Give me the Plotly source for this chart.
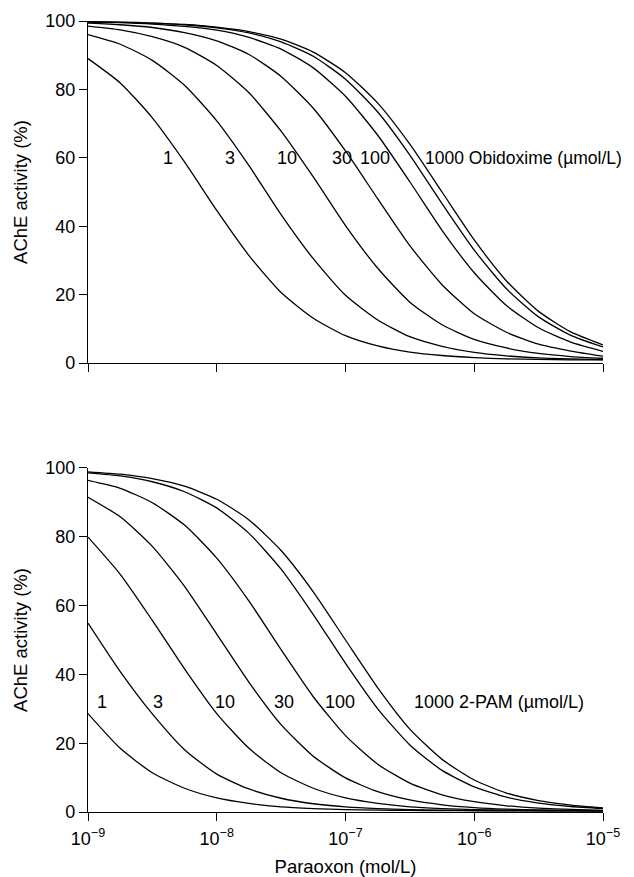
import plotly.graph_objects as go

# Paraoxon concentration (mol/L), quarter-decade steps
paraoxon = [1e-9, 1.78e-9, 3.16e-9, 5.62e-9, 1e-8, 1.78e-8, 3.16e-8, 5.62e-8, 1e-7,
            1.78e-7, 3.16e-7, 5.62e-7, 1e-6, 1.78e-6, 3.16e-6, 5.62e-6, 1e-5]

# Top panel: Obidoxime concentrations (µmol/L) and AChE activity (%)
obidoxime_conc = ["1", "3", "10", "30", "100", "300", "1000"]
obid_1 = [89.0, 81.9, 71.7, 58.8, 44.6, 31.4, 20.6, 13.1, 8.0, 5.0, 3.2, 2.2, 1.6, 1.2, 1.05, 0.95, 0.9]
obid_3 = [96.0, 93.2, 88.5, 81.2, 70.8, 57.7, 43.4, 30.5, 19.8, 12.6, 7.7, 4.9, 3.1, 2.1, 1.5, 1.2, 1.0]
obid_10 = [98.5, 97.4, 95.4, 92.3, 87.0, 79.0, 67.8, 54.4, 40.2, 27.7, 17.8, 11.2, 6.9, 4.4, 2.8, 1.9, 1.4]
obid_30 = [99.4, 98.9, 98.1, 96.6, 94.2, 90.2, 83.8, 74.5, 62.0, 48.0, 34.3, 22.9, 14.4, 9.0, 5.5, 3.5, 2.0]
obid_100 = [99.7, 99.5, 99.1, 98.4, 97.3, 95.2, 91.8, 86.3, 78.0, 66.6, 53.0, 38.8, 26.4, 16.8, 10.3, 6.1, 3.4]
obid_300 = [99.8, 99.6, 99.4, 98.9, 98.0, 96.5, 93.9, 89.7, 83.0, 73.4, 60.8, 46.6, 33.0, 21.7, 13.5, 8.1, 4.7]
obid_1000 = [99.8, 99.7, 99.4, 99.0, 98.2, 96.9, 94.7, 90.9, 84.9, 76.0, 64.0, 50.0, 36.0, 24.0, 15.1, 9.1, 5.3]
obidoxime_series = [obid_1, obid_3, obid_10, obid_30, obid_100, obid_300, obid_1000]

# Bottom panel: 2-PAM concentrations (µmol/L) and AChE activity (%)
pam_conc = ["1", "3", "10", "30", "100", "300", "1000"]
pam_1 = [28.6, 18.5, 11.4, 6.9, 4.1, 2.5, 1.5, 1.0, 0.7, 0.55, 0.45, 0.4, 0.35, 0.33, 0.3, 0.3, 0.3]
pam_3 = [54.9, 40.8, 28.5, 18.1, 11.0, 6.7, 4.0, 2.4, 1.5, 1.0, 0.7, 0.55, 0.45, 0.4, 0.35, 0.32, 0.3]
pam_10 = [79.9, 69.1, 55.7, 41.6, 28.6, 18.5, 11.4, 6.9, 4.1, 2.5, 1.5, 1.0, 0.7, 0.55, 0.45, 0.4, 0.35]
pam_30 = [91.5, 85.8, 77.2, 65.6, 51.7, 37.7, 25.4, 16.2, 9.9, 5.9, 3.5, 2.1, 1.3, 0.85, 0.6, 0.5, 0.4]
pam_100 = [96.4, 94.1, 89.9, 83.4, 73.8, 61.3, 47.2, 33.5, 22.2, 13.9, 8.4, 5.0, 3.0, 1.8, 1.1, 0.75, 0.5]
pam_300 = [98.6, 97.7, 96.0, 93.1, 88.4, 81.0, 70.6, 57.4, 43.2, 30.0, 19.5, 12.1, 7.3, 4.3, 2.6, 1.6, 1.0]
pam_1000 = [98.9, 98.2, 96.9, 94.7, 90.9, 84.9, 76.0, 64.0, 50.0, 36.1, 24.1, 15.3, 9.3, 5.5, 3.3, 2.0, 1.2]
pam_series = [pam_1, pam_3, pam_10, pam_30, pam_100, pam_300, pam_1000]

x_tickvals = [1e-9, 1e-8, 1e-7, 1e-6, 1e-5]
x_ticktext = ["10<sup>\u22129</sup>", "10<sup>\u22128</sup>", "10<sup>\u22127</sup>",
              "10<sup>\u22126</sup>", "10<sup>\u22125</sup>"]
y_tickvals = [0, 20, 40, 60, 80, 100]

FONT = "Liberation Sans, Arial, Helvetica, sans-serif"
line_style = dict(color="black", width=1.3, shape="spline", smoothing=0.6)

fig = go.Figure()
for name, ys in zip(obidoxime_conc, obidoxime_series):
    fig.add_trace(go.Scatter(x=paraoxon, y=ys, mode="lines", line=line_style,
                             name="Obidoxime " + name, xaxis="x", yaxis="y",
                             showlegend=False))
for name, ys in zip(pam_conc, pam_series):
    fig.add_trace(go.Scatter(x=paraoxon, y=ys, mode="lines", line=line_style,
                             name="2-PAM " + name, xaxis="x2", yaxis="y2",
                             showlegend=False))

axis_common = dict(showline=True, linecolor="black", linewidth=1.3,
                   ticks="outside", ticklen=8, tickwidth=1.3, tickcolor="black",
                   showgrid=False, zeroline=False, automargin=False,
                   tickfont=dict(family=FONT, size=18, color="black"))

# The page body has an 8px default margin, so the figure is sized to fit inside it.
fig.update_layout(
    width=626, height=869,
    paper_bgcolor="white", plot_bgcolor="white",
    margin=dict(l=79.5, r=31, t=13, b=65),
    font=dict(family=FONT, size=18, color="black"),
    xaxis=dict(type="log", range=[-9, -5], domain=[0, 1], anchor="y",
               tickvals=x_tickvals, showticklabels=False, **axis_common),
    yaxis=dict(range=[0, 100], domain=[0.5676, 1], anchor="x",
               tickvals=y_tickvals,
               title=dict(text="AChE activity (%)", standoff=12,
                          font=dict(family=FONT, size=18.5)),
               **axis_common),
    xaxis2=dict(type="log", range=[-9, -5], domain=[0, 1], anchor="y2",
                tickvals=x_tickvals, ticktext=x_ticktext, ticklabelstandoff=2,
                title=dict(text="Paraoxon (mol/L)", standoff=14,
                           font=dict(family=FONT, size=18.5)),
                **axis_common),
    yaxis2=dict(range=[0, 100], domain=[0, 0.4349], anchor="x2",
                tickvals=y_tickvals,
                title=dict(text="AChE activity (%)", standoff=12,
                           font=dict(family=FONT, size=18.5)),
                **axis_common),
)

ann_font = dict(family=FONT, size=18, color="black")
top_labels = [("1", -8.382), ("3", -7.899), ("10", -7.456), ("30", -7.03), ("100", -6.773)]
for txt, lx in top_labels:
    fig.add_annotation(x=lx, y=60, xref="x", yref="y", text=txt, showarrow=False,
                       font=ann_font, xanchor="center", yanchor="middle")
fig.add_annotation(x=-6.40, y=60, xref="x", yref="y", text="1000 Obidoxime (\u00b5mol/L)",
                   showarrow=False, font=dict(family=FONT, size=17.5, color="black"),
                   xanchor="left", yanchor="middle")

bottom_labels = [("1", -8.89), ("3", -8.457), ("10", -7.933), ("30", -7.478), ("100", -7.04)]
for txt, lx in bottom_labels:
    fig.add_annotation(x=lx, y=32, xref="x2", yref="y2", text=txt, showarrow=False,
                       font=ann_font, xanchor="center", yanchor="middle")
fig.add_annotation(x=-6.48, y=32, xref="x2", yref="y2", text="1000 2-PAM (\u00b5mol/L)",
                   showarrow=False, font=ann_font, xanchor="left", yanchor="middle")

fig.write_html("out.html")
